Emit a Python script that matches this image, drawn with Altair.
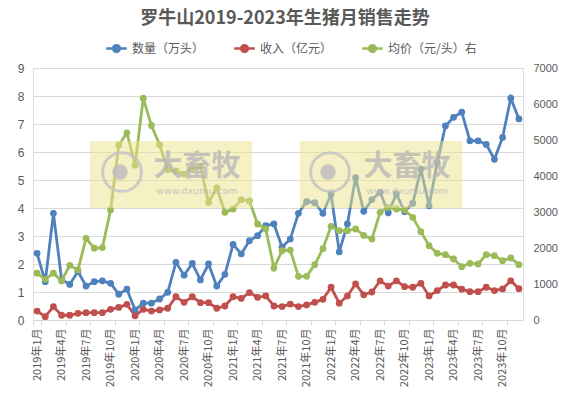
import altair as alt
import pandas as pd

years = [2019, 2020, 2021, 2022, 2023]
month_nums = list(range(1, 13))
months = [f"{y}年{m}月" for y in years for m in month_nums]
label_months = months[::3]

quantity = [2.38, 1.37, 3.81, 1.45, 1.27, 1.73, 1.21, 1.37, 1.40, 1.31, 0.92, 1.10,
            0.36, 0.60, 0.60, 0.75, 0.99, 2.06, 1.60, 2.02, 1.43, 2.00, 1.21, 1.63,
            2.70, 2.36, 2.83, 3.01, 3.37, 3.43, 2.60, 2.89, 3.81, 4.23, 4.19, 3.81,
            4.50, 2.43, 3.43, 5.08, 3.88, 4.30, 4.56, 3.83, 4.50, 3.87, 4.17, 5.39,
            4.08, 5.62, 6.93, 7.24, 7.42, 6.40, 6.40, 6.27, 5.74, 6.52, 7.92, 7.18]
revenue = [0.32, 0.12, 0.48, 0.17, 0.17, 0.24, 0.26, 0.26, 0.26, 0.38, 0.45, 0.56,
           0.15, 0.38, 0.32, 0.36, 0.42, 0.83, 0.63, 0.83, 0.62, 0.62, 0.42, 0.50,
           0.83, 0.77, 0.98, 0.81, 0.86, 0.50, 0.48, 0.57, 0.48, 0.54, 0.63, 0.74,
           1.17, 0.60, 0.86, 1.29, 0.90, 1.00, 1.40, 1.21, 1.40, 1.19, 1.17, 1.31,
           0.86, 1.05, 1.25, 1.25, 1.10, 1.01, 1.01, 1.17, 1.05, 1.11, 1.40, 1.12]
price = [1300, 1130, 1300, 1085, 1520, 1390, 2270, 1993, 2011, 3058, 4856, 5199,
         4300, 6163, 5403, 4866, 4171, 4143, 4050, 4217, 4263, 3269, 3667, 2991,
         3083, 3343, 3306, 2667, 2528, 1444, 1926, 1944, 1213, 1213, 1537, 1981,
         2602, 2481, 2481, 2528, 2350, 2250, 2991, 3130, 3083, 3056, 2852, 2454,
         2065, 1852, 1815, 1694, 1481, 1574, 1556, 1815, 1787, 1648, 1722, 1537]

SER_Q = "数量（万头）"
SER_R = "收入（亿元）"
SER_P = "均价（元/头）右"
series_names = [SER_Q, SER_R, SER_P]
series_colors = ["#4F81BD", "#C0504D", "#9BBB59"]
TITLE = "罗牛山2019-2023年生猪月销售走势"

left_df = pd.DataFrame({
    "月份": months * 2,
    "值": quantity + revenue,
    "系列": [SER_Q] * len(months) + [SER_R] * len(months),
})
right_df = pd.DataFrame({"月份": months, "值": price, "系列": [SER_P] * len(months)})

FONT = "Noto Sans CJK SC"
GREY = "#595959"

legend_symbol = "M-1,0L1,0M-0.33,0A0.33,0.33 0 1,0 0.33,0A0.33,0.33 0 1,0 -0.33,0Z"

color = alt.Color(
    "系列:N",
    scale=alt.Scale(domain=series_names, range=series_colors),
    legend=alt.Legend(
        title=None, orient="none", direction="horizontal", legendX=72, legendY=-31,
        symbolType=legend_symbol, symbolSize=420, symbolStrokeWidth=2.5,
        labelFontSize=12, labelColor=GREY, labelFont=FONT, columnPadding=24,
        labelOffset=4,
    ),
)

x_enc = alt.X(
    "月份:N", sort=months, bandPosition=0.5,
    scale=alt.Scale(type="band", paddingInner=0, paddingOuter=0),
    axis=alt.Axis(
        title=None, values=label_months, labelAngle=270, tickBand="extent",
        domainColor="#D9D9D9", tickColor="#D9D9D9", tickSize=5, labelPadding=3,
        labelFontSize=11, labelColor=GREY, labelFont=FONT, grid=False,
    ),
)

left = alt.Chart(left_df).mark_line(
    strokeWidth=2.8, point=alt.OverlayMarkDef(filled=True, size=46, opacity=1)
).encode(
    x=x_enc,
    y=alt.Y("值:Q", scale=alt.Scale(domain=[0, 9], nice=False),
            axis=alt.Axis(title=None, values=list(range(0, 10)), grid=True, gridColor="#D9D9D9",
                          domain=False, ticks=False, labelPadding=9, labelFontSize=12,
                          labelColor=GREY, labelFont="Liberation Sans")),
    color=color,
    detail="系列:N",
)

right = alt.Chart(right_df).mark_line(
    strokeWidth=2.8, point=alt.OverlayMarkDef(filled=True, size=46, opacity=1)
).encode(
    x=x_enc,
    y=alt.Y("值:Q", scale=alt.Scale(domain=[0, 7000], nice=False),
            axis=alt.Axis(title=None, orient="right", values=list(range(0, 7001, 1000)), grid=False,
                          format="d", domain=False, ticks=False, labelPadding=10, labelFontSize=11,
                          labelColor=GREY, labelFont="Liberation Sans")),
    color=color,
)

# watermark overlays (source attribution)
wm_df = pd.DataFrame({"k": [0]})
wm = alt.Chart(wm_df)
box1 = wm.mark_rect(color="#EEE28C", opacity=0.5).encode(
    x=alt.value(57), x2=alt.value(219), y=alt.value(73), y2=alt.value(140))
box2 = wm.mark_rect(color="#EEE28C", opacity=0.5).encode(
    x=alt.value(267), x2=alt.value(429), y=alt.value(73), y2=alt.value(140))
ring1 = wm.mark_point(shape="circle", size=1500, strokeWidth=3, color="#C4C4C4", opacity=0.8).encode(
    x=alt.value(89), y=alt.value(104))
ring2 = wm.mark_point(shape="circle", size=1500, strokeWidth=3, color="#C4C4C4", opacity=0.8).encode(
    x=alt.value(297), y=alt.value(104))
dot1 = wm.mark_point(shape="circle", size=240, filled=True, color="#BDBDBD", opacity=0.85).encode(
    x=alt.value(87), y=alt.value(104))
dot2 = wm.mark_point(shape="circle", size=240, filled=True, color="#BDBDBD", opacity=0.85).encode(
    x=alt.value(295), y=alt.value(104))
t1 = wm.mark_text(text="大畜牧", font=FONT, fontSize=29, fontWeight="bold", color="#B5B5B5", opacity=0.75).encode(
    x=alt.value(164), y=alt.value(99))
t2 = wm.mark_text(text="大畜牧", font=FONT, fontSize=29, fontWeight="bold", color="#B5B5B5", opacity=0.75).encode(
    x=alt.value(374), y=alt.value(99))
u1 = wm.mark_text(text="www.dxumu.com", font="DejaVu Sans", fontSize=9.5, color="#BDBDBD", opacity=0.8).encode(
    x=alt.value(164), y=alt.value(123))
u2 = wm.mark_text(text="www.dxumu.com", font="DejaVu Sans", fontSize=9.5, color="#BDBDBD", opacity=0.8).encode(
    x=alt.value(374), y=alt.value(123))

title = wm.mark_text(text=TITLE, font=FONT, fontSize=18, fontWeight="bold", color=GREY).encode(
    x=alt.value(252), y=alt.value(-49))

chart = alt.layer(left, right, box1, box2, ring1, ring2, dot1, dot2, t1, t2, u1, u2, title).resolve_scale(
    y="independent"
).properties(
    width=490, height=252,
    autosize=alt.AutoSizeParams(type="none"),
    padding={"left": 25, "top": 60, "right": 35, "bottom": 70},
).configure_view(stroke=None).configure(font=FONT)

chart.save("out.html", embed_options={"renderer": "svg", "actions": False})
